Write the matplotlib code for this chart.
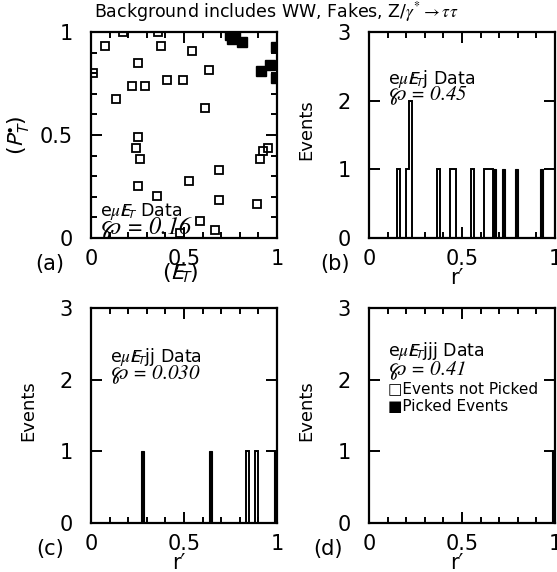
import numpy as np
import matplotlib
matplotlib.use('Agg')
import matplotlib.pyplot as plt
from matplotlib.ticker import MultipleLocator

plt.rcParams['font.family'] = ['DejaVu Sans']
plt.rcParams['mathtext.fontset'] = 'stix'

# panel (a): scatter of (MET) vs (PT) -- not picked / picked events
a_open_x = [0.01, 0.075, 0.17, 0.36, 0.376, 0.543, 0.25, 0.636, 0.407, 0.496,
            0.222, 0.29, 0.133, 0.613, 0.254, 0.24, 0.263, 0.909, 0.927, 0.95,
            0.69, 0.527, 0.254, 0.353, 0.688, 0.89, 0.586, 0.667, 0.478]
a_open_y = [0.80, 0.934, 1.0, 1.0, 0.932, 0.908, 0.848, 0.816, 0.767, 0.767,
            0.738, 0.738, 0.673, 0.63, 0.492, 0.438, 0.383, 0.383, 0.424, 0.435,
            0.33, 0.277, 0.254, 0.205, 0.184, 0.165, 0.084, 0.039, 0.024]
a_pick_x = [0.745, 0.76, 0.775, 0.81, 0.995, 0.965, 0.915, 0.995]
a_pick_y = [0.985, 0.965, 0.975, 0.952, 0.929, 0.84, 0.81, 0.775]

# panels (b)-(d): r' of events, 60 bins on [0, 1]
n_bins = 60
b_open = [0.158, 0.208, 0.225, 0.225, 0.375, 0.442, 0.458, 0.558, 0.625, 0.642, 0.658]
b_pick = [0.675, 0.725, 0.792, 0.925]
c_open = [0.842, 0.892]
c_pick = [0.275, 0.642, 0.992]
d_open = []
d_pick = [0.992]

panel_text = ['', 'j', 'jj', 'jjj']
wp_values = ['0.16', '0.45', '0.030', '0.41']

W, H = 557, 572
fig = plt.figure(figsize=(W / 100, H / 100), dpi=100)


def px(x, y):
    return x / W, 1 - y / H


def add_ax(left, top, right, bottom):
    ax = fig.add_axes([left / W, 1 - bottom / H, (right - left) / W, (bottom - top) / H])
    for s in ax.spines.values():
        s.set_linewidth(1.6)
    ax.tick_params(which='both', direction='in', top=True, right=True, width=1.4,
                   labelsize=15, pad=8)
    ax.tick_params(which='major', length=8)
    ax.tick_params(which='minor', length=4)
    ax.tick_params(axis='y', pad=13)
    ax.set_xlim(0, 1)
    ax.xaxis.set_minor_locator(MultipleLocator(0.1))
    ax.set_xticks([0, 0.5, 1])
    ax.set_xticklabels(['0', '0.5', '1'])
    return ax


def wp_text(ax, x, y, val, size):
    # script p in math, number in italic serif
    ax.text(x, y, r'$\wp$' + ' = ' + val, transform=ax.transAxes, fontsize=size,
            family='STIXGeneral', style='italic', va='center')


met = r'$\mathsf{E}\!\!\!\!/_{\mathsf{T}}$'

# (a)
ax = add_ax(91, 32, 277, 238)
ax.set_ylim(0, 1)
ax.yaxis.set_minor_locator(MultipleLocator(0.1))
ax.set_yticks([0, 0.5, 1])
ax.set_yticklabels(['0', '0.5', '1'])
ax.plot(a_open_x, a_open_y, 's', ms=5.6, mfc='none', mec='k', mew=1.3)
ax.plot(a_pick_x, a_pick_y, 's', ms=6.5, mfc='k', mec='k')
ax.text(0.05, 0.13, r'e$\mu$' + met + ' Data', transform=ax.transAxes, fontsize=12.5,
        va='center')
wp_text(ax, 0.05, 0.05, '0.16', 17.5)
fig.text(*px(18, 135), r'($\mathsf{P}_{\mathsf{T}}^{\bullet}$)', rotation=90, fontsize=16,
         ha='center', va='center')
fig.text(*px(180, 272), '(' + met + ')', fontsize=16, ha='center', va='center')
fig.text(*px(50, 264), '(a)', fontsize=15, ha='center', va='center')

# histograms
edges = np.linspace(0, 1, n_bins + 1)
hist_panels = [
    ((369, 32, 555, 238), b_open, b_pick, (335, 264)),
    ((91, 308, 277, 523), c_open, c_pick, (50, 549)),
    ((369, 308, 555, 523), d_open, d_pick, (328, 549)),
]
letters = ['b', 'c', 'd']
for i, (box, op, pk, lab_xy) in enumerate(hist_panels):
    ax = add_ax(*box)
    ax.set_yticks([0, 1, 2, 3])
    ax.set_yticklabels(['0', '1', '2', '3'])
    if op:
        ax.hist(op, bins=edges, histtype='step', color='k', lw=1.4)
    if pk:
        ax.hist(pk, bins=edges, histtype='stepfilled', color='k', lw=0.8, ec='k')
    ax.set_ylim(0, 3)
    ax.set_xlim(0, 1)
    l, t, r, b = box
    ax.text(0.1, 0.77 if i < 2 else 0.8, r'e$\mu$' + met + panel_text[i + 1] + ' Data',
            transform=ax.transAxes, fontsize=12.5, va='center')
    wp_text(ax, 0.1, 0.69 if i < 2 else 0.71, wp_values[i + 1], 15)
    fig.text(*px(l - 63, (t + b) / 2 - 5), 'Events', rotation=90, fontsize=13,
             ha='center', va='center')
    fig.text(*px(l + 88, b + 40), 'r\u2032', fontsize=15, ha='center', va='center')
    fig.text(*px(*lab_xy), '(' + letters[i] + ')', fontsize=15, ha='center', va='center')
    if i == 2:
        ax.text(0.1, 0.625, '\u25a1Events not Picked', transform=ax.transAxes,
                fontsize=11, va='center')
        ax.text(0.1, 0.54, '\u25a0Picked Events', transform=ax.transAxes,
                fontsize=11, va='center')

fig.text(*px(276, 12), r'Background includes WW, Fakes, Z/$\gamma^{*}\rightarrow\tau\tau$',
         fontsize=12.5, ha='center', va='center')

fig.savefig('out.png', dpi=100)
